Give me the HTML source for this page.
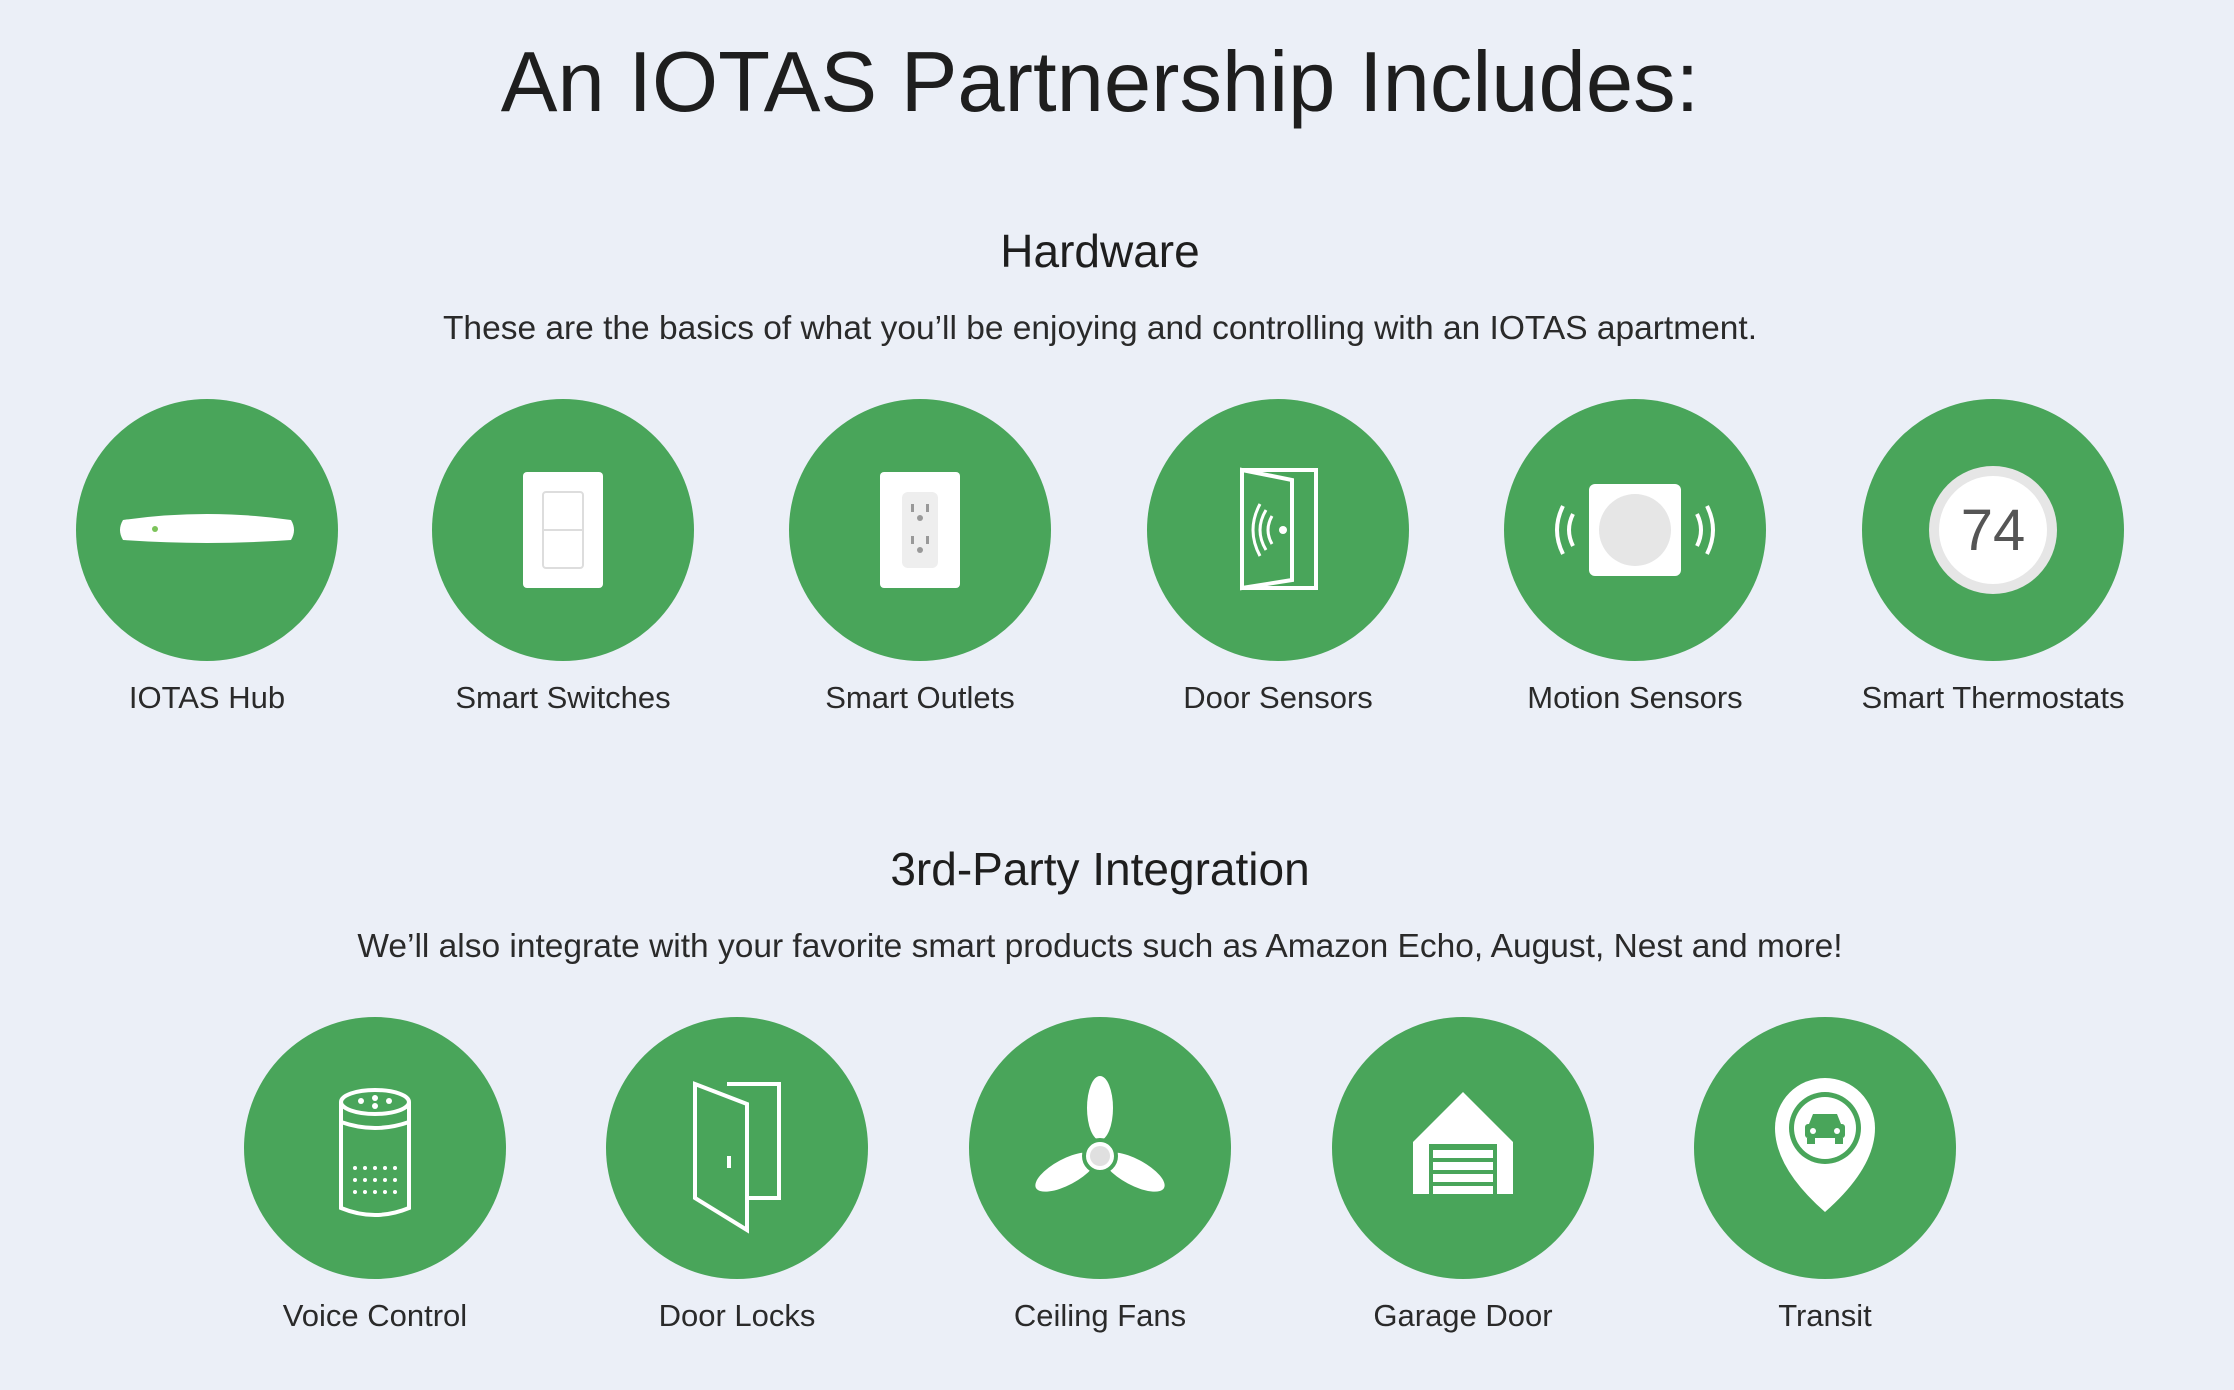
<!DOCTYPE html>
<html><head><meta charset="utf-8"><style>
body{margin:0;width:2234px;height:1390px;background:#ebeff7;position:relative;overflow:hidden;font-family:"Liberation Sans",sans-serif;color:#1e1e1e}
.t{position:absolute;left:0;width:2200px;text-align:center;white-space:nowrap}
.c{position:absolute;width:262px;height:262px;margin-left:-131px;margin-top:-131px}
.l{position:absolute;width:400px;margin-left:-200px;text-align:center;font-size:31px;color:#2a2a2a}
</style></head><body>
<div class="t" style="top:34px;font-size:85px;font-weight:300">An IOTAS Partnership Includes:</div>
<div class="t" style="top:224px;font-size:46px">Hardware</div>
<div class="t" style="top:310px;font-size:33.5px;color:#2a2a2a">These are the basics of what you’ll be enjoying and controlling with an IOTAS apartment.</div>

<!-- row 1 -->
<svg class="c" style="left:207px;top:530px" viewBox="-131 -131 262 262"><circle r="131" fill="#49a55a"/><path d="M-84 -10 Q0 -22 84 -10 Q90 0 84 10 Q0 16 -84 10 Q-90 0 -84 -10Z" fill="#fff"/><circle cx="-52" cy="-1" r="3" fill="#7cc35a"/></svg>
<svg class="c" style="left:563px;top:530px" viewBox="-131 -131 262 262"><circle r="131" fill="#49a55a"/><rect x="-40" y="-58" width="80" height="116" rx="4" fill="#fff"/><rect x="-20" y="-38" width="40" height="76" rx="3" fill="none" stroke="#ddd" stroke-width="2"/><line x1="-20" y1="0" x2="20" y2="0" stroke="#ddd" stroke-width="2"/></svg>
<svg class="c" style="left:920px;top:530px" viewBox="-131 -131 262 262"><circle r="131" fill="#49a55a"/><rect x="-40" y="-58" width="80" height="116" rx="4" fill="#fff"/><rect x="-18" y="-38" width="36" height="76" rx="6" fill="#eee"/><g fill="#999"><rect x="-9" y="-26" width="3" height="8"/><rect x="6" y="-26" width="3" height="8"/><circle cx="0" cy="-12" r="3"/><rect x="-9" y="6" width="3" height="8"/><rect x="6" y="6" width="3" height="8"/><circle cx="0" cy="20" r="3"/></g></svg>
<svg class="c" style="left:1278px;top:530px" viewBox="-131 -131 262 262"><circle r="131" fill="#49a55a"/><g fill="none" stroke="#fff" stroke-width="4"><rect x="-36" y="-60" width="74" height="118"/><path d="M-36 -60 L14 -50 L14 50 L-36 58Z"/><path d="M-6 -14 Q-14 0 -6 14 M-12 -20 Q-24 0 -12 20 M-18 -26 Q-32 0 -18 26" stroke-width="3"/></g><circle cx="5" cy="0" r="4" fill="#fff"/></svg>
<svg class="c" style="left:1635px;top:530px" viewBox="-131 -131 262 262"><circle r="131" fill="#49a55a"/><rect x="-46" y="-46" width="92" height="92" rx="6" fill="#fff"/><circle r="36" fill="#e6e6e6"/><g fill="none" stroke="#fff" stroke-width="4"><path d="M-62 -16 Q-70 0 -62 16 M-72 -24 Q-84 0 -72 24 M62 -16 Q70 0 62 16 M72 -24 Q84 0 72 24"/></g></svg>
<svg class="c" style="left:1993px;top:530px" viewBox="-131 -131 262 262"><circle r="131" fill="#49a55a"/><circle r="64" fill="#e6e6e6"/><circle r="54" fill="#fff"/><text x="0" y="20" text-anchor="middle" font-family="Liberation Sans" font-size="58" fill="#555" font-weight="300">74</text></svg>
<div class="l" style="left:207px;top:680px">IOTAS Hub</div>
<div class="l" style="left:563px;top:680px">Smart Switches</div>
<div class="l" style="left:920px;top:680px">Smart Outlets</div>
<div class="l" style="left:1278px;top:680px">Door Sensors</div>
<div class="l" style="left:1635px;top:680px">Motion Sensors</div>
<div class="l" style="left:1993px;top:680px">Smart Thermostats</div>

<div class="t" style="top:842px;font-size:46px">3rd-Party Integration</div>
<div class="t" style="top:928px;font-size:33.5px;color:#2a2a2a">We’ll also integrate with your favorite smart products such as Amazon Echo, August, Nest and more!</div>

<!-- row 2 -->
<svg class="c" style="left:375px;top:1148px" viewBox="-131 -131 262 262"><circle r="131" fill="#49a55a"/><g fill="none" stroke="#fff" stroke-width="4"><ellipse cx="0" cy="-46" rx="34" ry="12"/><path d="M-34 -46 V60 Q0 74 34 60 V-46"/><path d="M-34 -26 Q0 -14 34 -26"/></g><g fill="#fff"><circle cx="-14" cy="-47" r="3"/><circle cx="0" cy="-50" r="3"/><circle cx="14" cy="-47" r="3"/><circle cx="0" cy="-42" r="3"/></g><g fill="#fff"><circle cx="-20" cy="20" r="2"/><circle cx="-10" cy="20" r="2"/><circle cx="0" cy="20" r="2"/><circle cx="10" cy="20" r="2"/><circle cx="20" cy="20" r="2"/><circle cx="-20" cy="32" r="2"/><circle cx="-10" cy="32" r="2"/><circle cx="0" cy="32" r="2"/><circle cx="10" cy="32" r="2"/><circle cx="20" cy="32" r="2"/><circle cx="-20" cy="44" r="2"/><circle cx="-10" cy="44" r="2"/><circle cx="0" cy="44" r="2"/><circle cx="10" cy="44" r="2"/><circle cx="20" cy="44" r="2"/></g></svg>
<svg class="c" style="left:737px;top:1148px" viewBox="-131 -131 262 262"><circle r="131" fill="#49a55a"/><g fill="none" stroke="#fff" stroke-width="4"><path d="M-10 -64 H42 V50 H10"/><path d="M-42 -64 L10 -44 L10 82 L-42 50Z"/></g><rect x="-10" y="8" width="4" height="12" fill="#fff"/></svg>
<svg class="c" style="left:1100px;top:1148px" viewBox="-131 -131 262 262"><circle r="131" fill="#49a55a"/><g fill="#fff"><ellipse cx="0" cy="-40" rx="13" ry="32"/><ellipse cx="-34" cy="24" rx="34" ry="13" transform="rotate(-28 -34 24)"/><ellipse cx="34" cy="24" rx="34" ry="13" transform="rotate(28 34 24)"/></g><circle cx="0" cy="8" r="16" fill="#fff" stroke="#49a55a" stroke-width="4"/><circle cx="0" cy="8" r="10" fill="#e0e0e0"/></svg>
<svg class="c" style="left:1463px;top:1148px" viewBox="-131 -131 262 262"><circle r="131" fill="#49a55a"/><path d="M0 -56 L-50 -6 V46 H50 V-6Z" fill="#fff"/><g fill="#49a55a"><rect x="-34" y="-4" width="68" height="50"/></g><g fill="#fff"><rect x="-30" y="2" width="60" height="8"/><rect x="-30" y="14" width="60" height="8"/><rect x="-30" y="26" width="60" height="8"/><rect x="-30" y="38" width="60" height="8"/></g></svg>
<svg class="c" style="left:1825px;top:1148px" viewBox="-131 -131 262 262"><circle r="131" fill="#49a55a"/><path d="M0 64 Q-50 20 -50 -20 A50 50 0 0 1 50 -20 Q50 20 0 64Z" fill="#fff"/><circle cx="0" cy="-20" r="36" fill="#49a55a"/><circle cx="0" cy="-20" r="31" fill="#fff"/><g fill="#49a55a"><path d="M-12 -34 H12 L16 -24 H-16Z"/><rect x="-20" y="-24" width="40" height="14" rx="3"/><rect x="-18" y="-10" width="8" height="6"/><rect x="10" y="-10" width="8" height="6"/></g><circle cx="-12" cy="-17" r="3" fill="#fff"/><circle cx="12" cy="-17" r="3" fill="#fff"/></svg>
<div class="l" style="left:375px;top:1298px">Voice Control</div>
<div class="l" style="left:737px;top:1298px">Door Locks</div>
<div class="l" style="left:1100px;top:1298px">Ceiling Fans</div>
<div class="l" style="left:1463px;top:1298px">Garage Door</div>
<div class="l" style="left:1825px;top:1298px">Transit</div>
</body></html>
